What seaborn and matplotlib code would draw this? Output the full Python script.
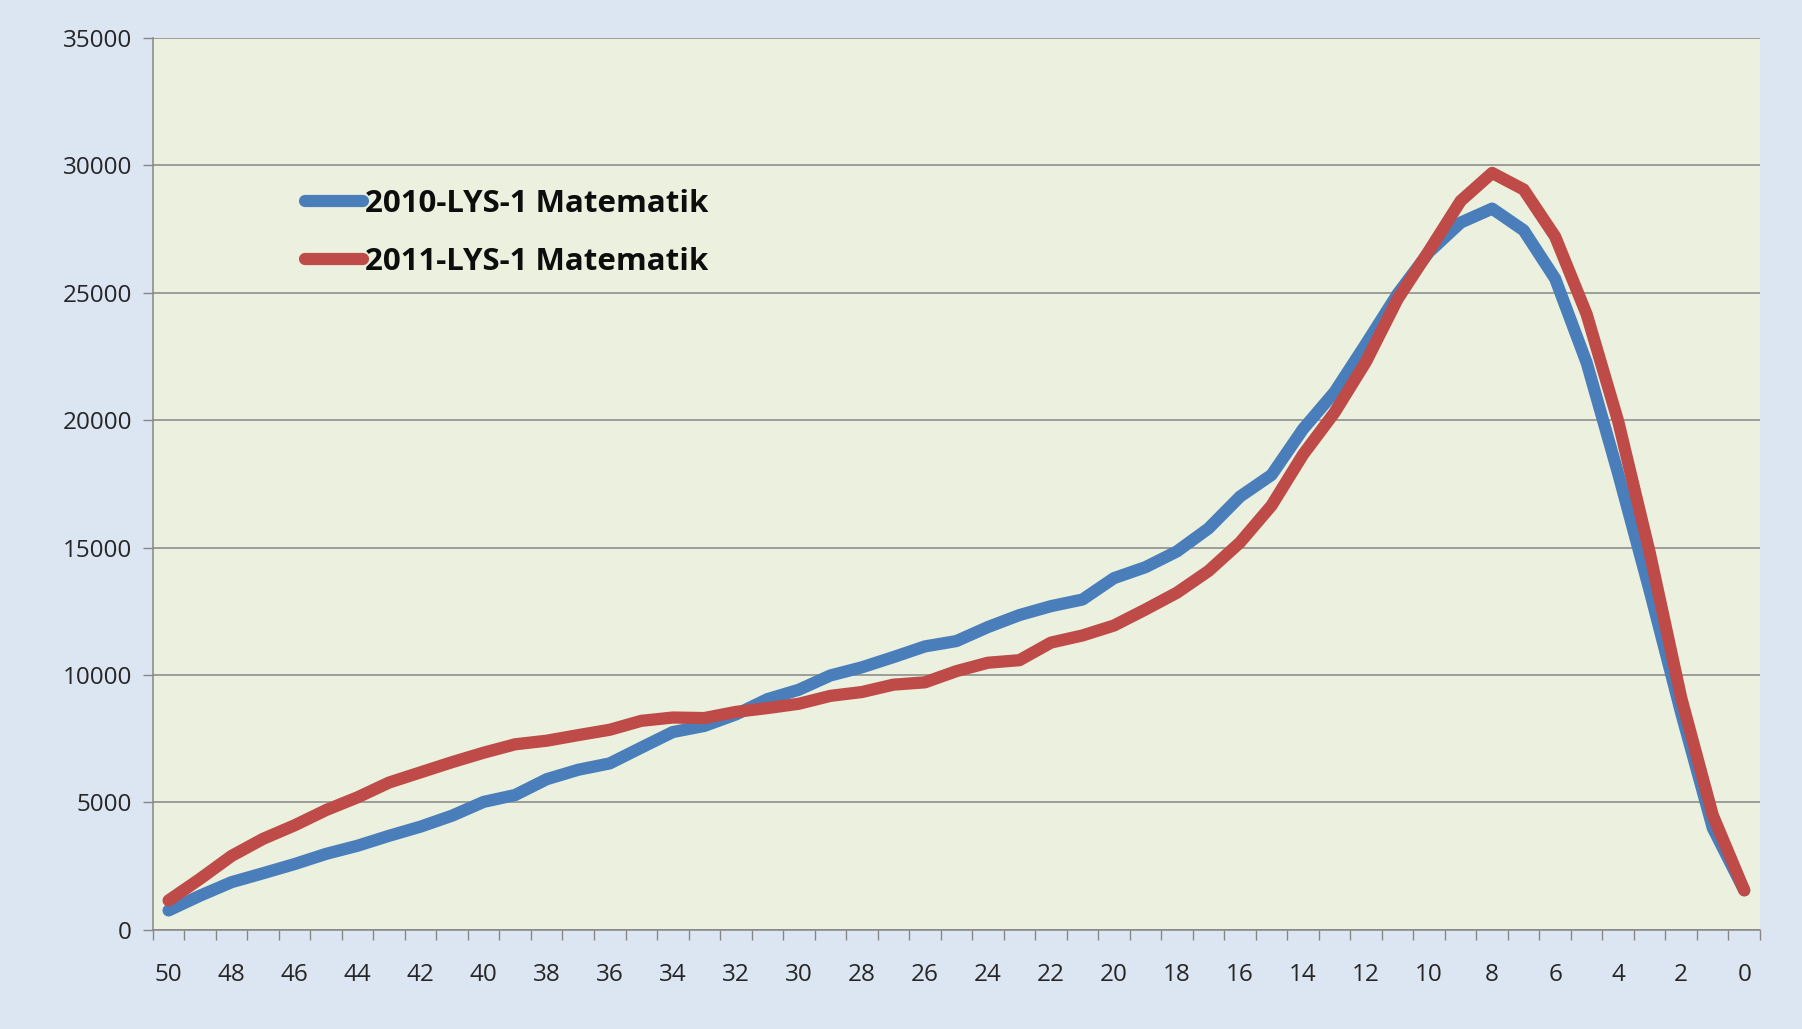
import numpy as np
import pandas as pd
import matplotlib
matplotlib.use("Agg")
import matplotlib.pyplot as plt
import seaborn as sns

scores = list(range(50, -1, -1))
lys2010 = [760, 1340, 1870, 2220, 2580, 2980, 3300, 3690, 4050, 4480,
           5020, 5290, 5910, 6280, 6530, 7150, 7760, 8000, 8450, 9050,
           9420, 9980, 10300, 10700, 11120, 11330, 11880, 12350, 12700, 12960,
           13800, 14230, 14850, 15750, 17000, 17850, 19650, 21100, 23000, 24950,
           26600, 27750, 28300, 27450, 25550, 22250, 17900, 13300, 8500, 4000, 1550]
lys2011 = [1150, 2000, 2900, 3570, 4100, 4700, 5200, 5780, 6180, 6580,
           6950, 7280, 7420, 7640, 7850, 8200, 8330, 8310, 8550, 8700,
           8870, 9180, 9330, 9620, 9710, 10150, 10480, 10580, 11270, 11550,
           11940, 12570, 13230, 14080, 15200, 16650, 18650, 20300, 22300, 24750,
           26650, 28600, 29700, 29050, 27200, 24150, 19950, 14800, 9100, 4500, 1550]
series_names = ["2010-LYS-1 Matematik", "2011-LYS-1 Matematik"]
colors = ["#4A7EBB", "#BE4B48"]

df = pd.DataFrame({"score": scores * 2,
                   "count": lys2010 + lys2011,
                   "series": [series_names[0]] * len(scores) + [series_names[1]] * len(scores)})

sns.set_theme(style="white")
plt.rcParams['font.family'] = ['Open Sans', 'DejaVu Sans']

fig = plt.figure(figsize=(18.02, 10.29), dpi=100, facecolor="#DCE6F2")
ax = fig.add_axes([0.0848, 0.0964, 0.8919, 0.8668])
ax.set_facecolor("#EBF1DE")

sns.lineplot(data=df, x="score", y="count", hue="series", palette=colors,
             linewidth=8.8, ax=ax, sort=False, legend=True)
for ln in ax.lines:
    ln.set_solid_capstyle("round")
    ln.set_solid_joinstyle("round")

ax.set_xlim(50.5, -0.5)
ax.set_ylim(0, 35000)
ax.set_yticks(np.arange(0, 35001, 5000))
ax.set_yticklabels([str(v) for v in range(0, 35001, 5000)])
ax.yaxis.grid(True, color="#868686", linewidth=1.1)
ax.xaxis.grid(False)
ax.set_axisbelow(True)

ax.set_xticks(np.arange(50, -1, -2))
ax.set_xticklabels([str(v) for v in range(50, -1, -2)])
ax.set_xticks(np.arange(50.5, -0.6, -1), minor=True)
ax.tick_params(axis="x", which="major", length=0, pad=24, labelsize=17.5, labelcolor="#262626")
ax.tick_params(axis="x", which="minor", length=7, width=1, color="#868686", direction="out", bottom=True)
ax.tick_params(axis="y", which="major", length=7, width=1, color="#868686", direction="out",
               left=True, pad=8, labelsize=17.5, labelcolor="#262626")

for s in ["top", "right"]:
    ax.spines[s].set_visible(False)
for s in ["left", "bottom"]:
    ax.spines[s].set_color("#868686")
    ax.spines[s].set_linewidth(1.1)

ax.set_xlabel("")
ax.set_ylabel("")

leg = ax.legend(loc="upper left", bbox_to_anchor=(0.087, 0.845), frameon=False,
                prop={"weight": "bold", "size": 22.5}, handlelength=1.85,
                handletextpad=0.05, labelspacing=0.9, borderaxespad=0)
for h in leg.get_lines():
    h.set_linewidth(8.8)
    h.set_solid_capstyle("round")
for t in leg.get_texts():
    t.set_color("#0D0D0D")

fig.savefig("out.png", dpi=100, facecolor=fig.get_facecolor())
